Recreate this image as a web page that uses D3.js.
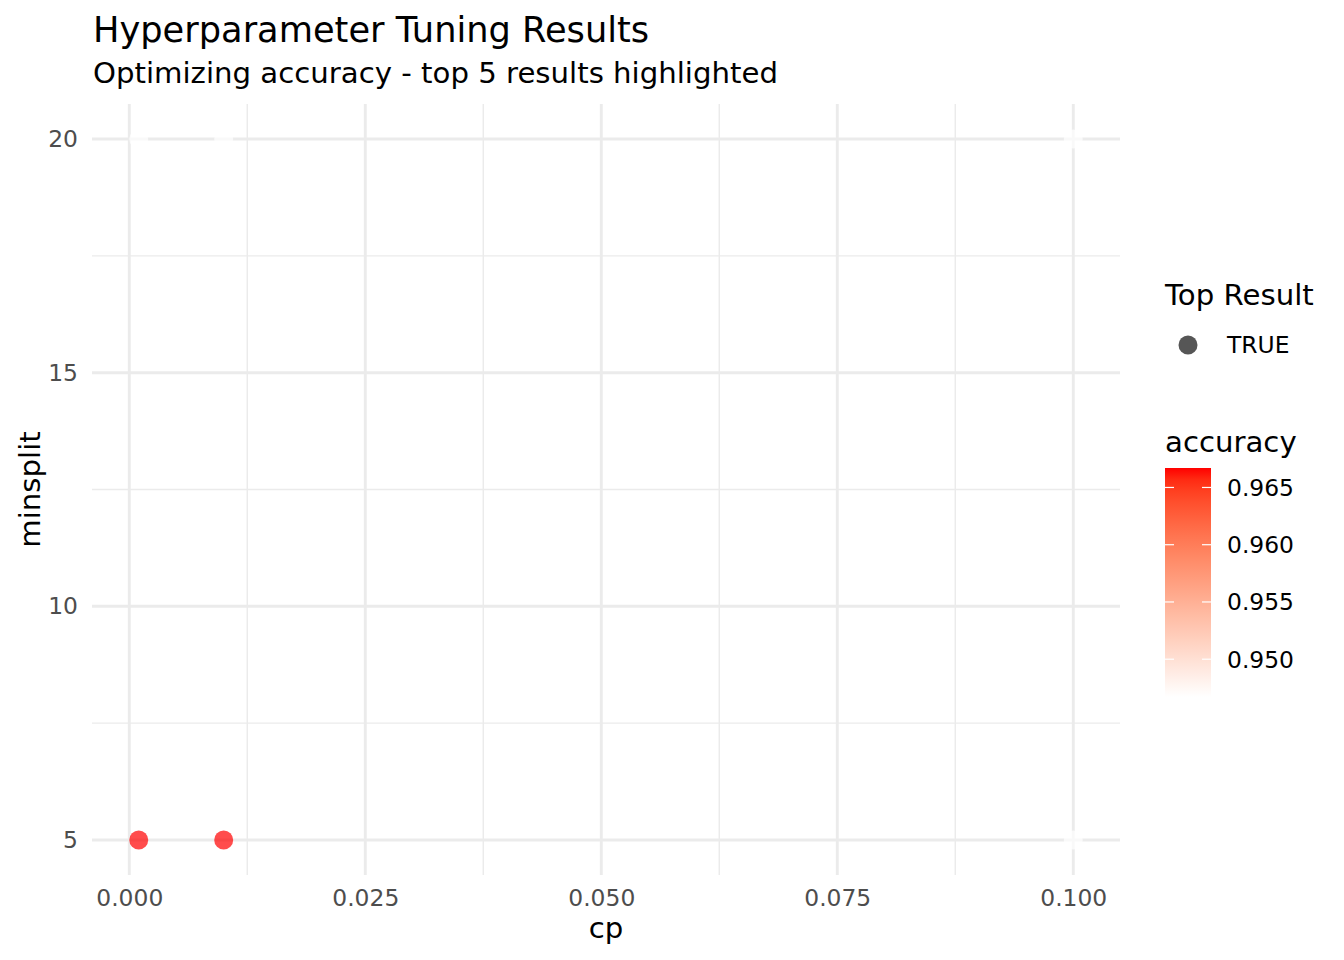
<!DOCTYPE html>
<html>
<head>
<meta charset="utf-8">
<script src="https://cdn.jsdelivr.net/npm/d3@7"></script>
<style>
  body { margin: 0; background: #fff; }
  text { font-family: "DejaVu Sans", sans-serif; }
</style>
</head>
<body>
<script>
// tuning grid results
const cpValues = [0.001, 0.01, 0.1, 0.001, 0.01, 0.1]
const minsplitValues = [5, 5, 5, 20, 20, 20]
const accuracyValues = [0.9667, 0.9667, 0.9467, 0.9467, 0.9467, 0.9467]

const xTicks = [0, 0.025, 0.05, 0.075, 0.1]
const yTicks = [5, 10, 15, 20]
const accTicks = [0.950, 0.955, 0.960, 0.965]

const data = cpValues.map((cp, i) => ({ cp: cp, minsplit: minsplitValues[i], accuracy: accuracyValues[i] }))

const width = 1344
const height = 960
const panel = { left: 92, right: 1120, top: 104, bottom: 875 }
const tickSize = '23.4px'
const titleSize = '29.2px'

const svg = d3.select('body').append('svg')
    .attr('width', width)
    .attr('height', height)

function expand(ext) {
    const pad = (ext[1] - ext[0]) * 0.05
    return [ext[0] - pad, ext[1] + pad]
}

const x = d3.scaleLinear()
    .domain(expand(d3.extent(data, d => d.cp)))
    .range([panel.left, panel.right])

const y = d3.scaleLinear()
    .domain(expand(d3.extent(data, d => d.minsplit)))
    .range([panel.bottom, panel.top])

const accExtent = d3.extent(data, d => d.accuracy)
const color = d3.scaleLinear()
    .domain(accExtent)
    .range(['white', 'red'])
    .interpolate(d3.interpolateLab)

// minor grid at midpoints between major ticks
const mids = t => t.slice(1).map((v, i) => (v + t[i]) / 2)

const grid = svg.append('g')
grid.selectAll('line.xminor')
    .data(mids(xTicks))
    .enter().append('line')
    .attr('x1', d => x(d)).attr('x2', d => x(d))
    .attr('y1', panel.top).attr('y2', panel.bottom)
    .attr('stroke', '#ebebeb').attr('stroke-width', 1.45)
grid.selectAll('line.yminor')
    .data(mids(yTicks))
    .enter().append('line')
    .attr('y1', d => y(d)).attr('y2', d => y(d))
    .attr('x1', panel.left).attr('x2', panel.right)
    .attr('stroke', '#ebebeb').attr('stroke-width', 1.45)
grid.selectAll('line.xmajor')
    .data(xTicks)
    .enter().append('line')
    .attr('x1', d => x(d)).attr('x2', d => x(d))
    .attr('y1', panel.top).attr('y2', panel.bottom)
    .attr('stroke', '#ebebeb').attr('stroke-width', 2.9)
grid.selectAll('line.ymajor')
    .data(yTicks)
    .enter().append('line')
    .attr('y1', d => y(d)).attr('y2', d => y(d))
    .attr('x1', panel.left).attr('x2', panel.right)
    .attr('stroke', '#ebebeb').attr('stroke-width', 2.9)

// axes (labels only, ggplot minimal style)
svg.append('g')
    .attr('transform', `translate(0,${panel.bottom})`)
    .call(d3.axisBottom(x).tickValues(xTicks).tickFormat(d3.format('.3f')).tickSize(0).tickPadding(14))
svg.append('g')
    .attr('transform', `translate(${panel.left},0)`)
    .call(d3.axisLeft(y).tickValues(yTicks).tickFormat(d3.format('d')).tickSize(0).tickPadding(14))
svg.selectAll('.domain').remove()
svg.selectAll('.tick text')
    .attr('fill', '#4d4d4d')
    .style('font-size', tickSize)
    .style('font-family', '"DejaVu Sans", sans-serif')

// points
svg.append('g').selectAll('circle')
    .data(data)
    .enter().append('circle')
    .attr('cx', d => x(d.cp))
    .attr('cy', d => y(d.minsplit))
    .attr('r', 9.5)
    .attr('fill', d => color(d.accuracy))
    .attr('fill-opacity', 0.7)

// titles
svg.append('text')
    .attr('x', 93).attr('y', 42)
    .style('font-size', '35.2px')
    .text('Hyperparameter Tuning Results')
svg.append('text')
    .attr('x', 93).attr('y', 83)
    .style('font-size', titleSize)
    .text('Optimizing accuracy - top 5 results highlighted')
svg.append('text')
    .attr('x', (panel.left + panel.right) / 2).attr('y', 938)
    .attr('text-anchor', 'middle')
    .style('font-size', titleSize)
    .text('cp')
svg.append('text')
    .attr('transform', `translate(39.5,${(panel.top + panel.bottom) / 2}) rotate(-90)`)
    .attr('text-anchor', 'middle')
    .style('font-size', titleSize)
    .text('minsplit')

// legend: Top Result
const leg = svg.append('g')
leg.append('text')
    .attr('x', 1165).attr('y', 305)
    .style('font-size', titleSize)
    .text('Top Result')
leg.append('circle')
    .attr('cx', 1188).attr('cy', 345)
    .attr('r', 9.5)
    .attr('fill', '#4d4d4d')
    .attr('fill-opacity', 0.95)
leg.append('text')
    .attr('x', 1227).attr('y', 345)
    .attr('dy', '0.36em')
    .style('font-size', tickSize)
    .text('TRUE')

// legend: accuracy colourbar
const bar = { x: 1165, w: 46, top: 468, bottom: 697 }
const barScale = d3.scaleLinear()
    .domain(accExtent)
    .range([bar.bottom, bar.top])

const defs = svg.append('defs')
const grad = defs.append('linearGradient')
    .attr('id', 'accgrad')
    .attr('x1', 0).attr('x2', 0).attr('y1', 1).attr('y2', 0)
d3.range(0, 1.0001, 0.05).forEach(t => {
    grad.append('stop')
        .attr('offset', t)
        .attr('stop-color', color(accExtent[0] + t * (accExtent[1] - accExtent[0])))
})

leg.append('text')
    .attr('x', 1165).attr('y', 452)
    .style('font-size', titleSize)
    .text('accuracy')
leg.append('rect')
    .attr('x', bar.x).attr('y', bar.top)
    .attr('width', bar.w).attr('height', bar.bottom - bar.top)
    .attr('fill', 'url(#accgrad)')

const barTicks = leg.selectAll('g.bartick')
    .data(accTicks)
    .enter().append('g')
    .attr('transform', d => `translate(0,${barScale(d)})`)
barTicks.append('line')
    .attr('x1', bar.x).attr('x2', bar.x + 9)
    .attr('stroke', 'white').attr('stroke-width', 1.2)
barTicks.append('line')
    .attr('x1', bar.x + bar.w - 9).attr('x2', bar.x + bar.w)
    .attr('stroke', 'white').attr('stroke-width', 1.2)
barTicks.append('text')
    .attr('x', 1227)
    .attr('dy', '0.36em')
    .style('font-size', tickSize)
    .text(d => d3.format('.3f')(d))
</script>
</body>
</html>
